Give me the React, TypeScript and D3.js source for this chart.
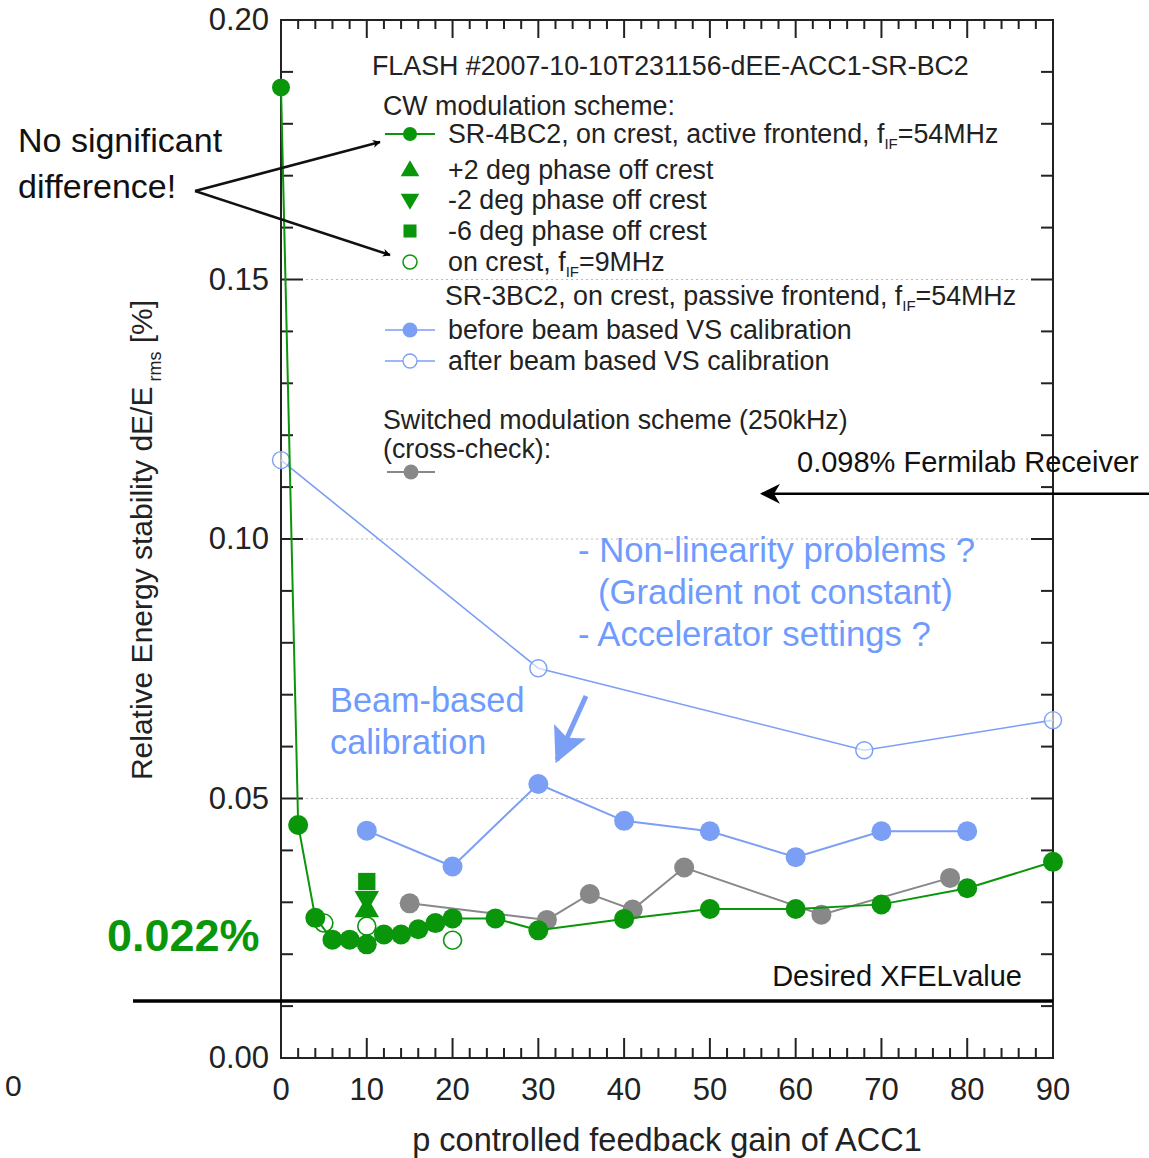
import React from "react";
import * as d3 from "d3";

// ---------- data ----------
const greenX = [0, 2, 4, 6, 8, 10, 12, 14, 16, 18, 20, 25, 30, 40, 50, 60, 70, 80, 90];
const greenY = [0.187, 0.0449, 0.027, 0.0228, 0.0228, 0.0219, 0.0238, 0.0238, 0.0248, 0.026, 0.0269, 0.0269, 0.0246, 0.0268, 0.0287, 0.0287, 0.0296, 0.0327, 0.0378];

const openGreenX = [5, 10, 20];
const openGreenY = [0.026, 0.0254, 0.0227];

const upTriX = [10];
const upTriY = [0.0285];
const downTriX = [10];
const downTriY = [0.0308];
const squareX = [10];
const squareY = [0.034];

const blueBeforeX = [10, 20, 30, 40, 50, 60, 70, 80];
const blueBeforeY = [0.0438, 0.0369, 0.0528, 0.0457, 0.0437, 0.0387, 0.0437, 0.0437];

const blueAfterX = [0, 30, 68, 90];
const blueAfterY = [0.1152, 0.0751, 0.0593, 0.0651];

const grayX = [15, 31, 36, 41, 47, 63, 78];
const grayY = [0.0298, 0.0266, 0.0316, 0.0286, 0.0367, 0.0276, 0.0347];

const xTickLabels = [0, 10, 20, 30, 40, 50, 60, 70, 80, 90];
const yTickLabels = ["0.00", "0.05", "0.10", "0.15", "0.20"];
const gridValues = [0.05, 0.1, 0.15];

const xfelValue = 0.011;
const fermilabArrowValue = 0.1087;

// ---------- styles ----------
const GREEN = "#0a960a";
const BLUE = "#7b9ff5";
const BLUE_TEXT = "#6f9bff";
const GRAY = "#888888";
const FONT = "'Liberation Sans', Arial, Helvetica, sans-serif";

export default function App() {
  const W = 1149, H = 1158;
  const x = d3.scaleLinear().domain([0, 90]).range([281, 1053]);
  const y = d3.scaleLinear().domain([0, 0.2]).range([1058, 20]);
  const [x0, x1] = x.range();
  const [y0, y1] = y.range();

  const line = d3.line<[number, number]>().x(d => x(d[0])).y(d => y(d[1]));
  const zip = (a: number[], b: number[]) => a.map((v, i) => [v, b[i]] as [number, number]);

  const xMinor = d3.range(0, 90.001, 2);
  const yMinor = d3.range(0, 0.2001, 0.01);

  const triUp = d3.symbol().type(d3.symbolTriangle).size(260)()!;
  const sq = d3.symbol().type(d3.symbolSquare).size(300)()!;
  const triUpL = d3.symbol().type(d3.symbolTriangle).size(150)()!;
  const sqL = d3.symbol().type(d3.symbolSquare).size(170)()!;

  const legendFs = 26.8;
  const lx = 448; // legend text x
  const sx = 410; // legend symbol x

  return (
    <svg width={W} height={H} style={{ position: "absolute", left: 0, top: 0, background: "#fff" }} fontFamily={FONT}>
      <defs>
        <marker id="arrBlack" viewBox="0 0 10 10" refX="9" refY="5" markerWidth="8" markerHeight="8" orient="auto-start-reverse" markerUnits="userSpaceOnUse">
          <path d="M0,0 L10,5 L0,10 L3,5 Z" fill="#000" />
        </marker>
        <marker id="arrBig" viewBox="0 0 10 10" refX="9" refY="5" markerWidth="26" markerHeight="20" orient="auto" markerUnits="userSpaceOnUse">
          <path d="M0,0 L10,5 L0,10 L3,5 Z" fill="#000" />
        </marker>
        <marker id="arrBlue" viewBox="0 0 10 10" refX="9" refY="5" markerWidth="8" markerHeight="7" orient="auto">
          <path d="M0,0 L10,5 L0,10 L2,5 Z" fill={BLUE} />
        </marker>
      </defs>

      {/* gridlines */}
      {gridValues.map(v => (
        <line key={v} x1={x0} x2={x1} y1={y(v)} y2={y(v)} stroke="#bbb" strokeWidth={1} strokeDasharray="2,3" />
      ))}

      {/* frame */}
      <rect x={x0} y={y1} width={x1 - x0} height={y0 - y1} fill="none" stroke="#222" strokeWidth={2} />

      {/* x ticks (bottom & top) */}
      {xMinor.map(v => {
        const major = Math.abs(v % 10) < 1e-6;
        const len = major ? 20 : 10;
        return (
          <g key={"xt" + v} stroke="#222" strokeWidth={2}>
            <line x1={x(v)} x2={x(v)} y1={y0} y2={y0 - len} />
            <line x1={x(v)} x2={x(v)} y1={y1} y2={y1 + (major ? 18 : 9)} />
          </g>
        );
      })}
      {/* y ticks (left & right) */}
      {yMinor.map((v, i) => {
        const major = i % 5 === 0;
        const len = major ? 22 : 12;
        return (
          <g key={"yt" + i} stroke="#222" strokeWidth={2}>
            <line x1={x0} x2={x0 + len} y1={y(v)} y2={y(v)} />
            <line x1={x1} x2={x1 - len} y1={y(v)} y2={y(v)} />
          </g>
        );
      })}

      {/* tick labels */}
      {xTickLabels.map(v => (
        <text key={"xl" + v} x={x(v)} y={y0 + 42} fontSize={31} textAnchor="middle" fill="#222">{v}</text>
      ))}
      {yTickLabels.map(s => (
        <text key={"yl" + s} x={x0 - 12} y={y(+s) + 10} fontSize={31} textAnchor="end" fill="#222">{s}</text>
      ))}
      <text x={5} y={1096} fontSize={30} fill="#222">0</text>

      {/* axis titles */}
      <text x={(x0 + x1) / 2} y={1151} fontSize={32.5} textAnchor="middle" fill="#222">p controlled feedback gain of ACC1</text>
      <text transform={`translate(152, ${y(0.1) + 1}) rotate(-90)`} fontSize={30} textAnchor="middle" fill="#222">
        Relative Energy stability dE/E<tspan fontSize={18} dy={9}> rms</tspan><tspan dy={-9}> [%]</tspan>
      </text>

      {/* desired XFEL line */}
      <line x1={133} x2={x1} y1={y(xfelValue)} y2={y(xfelValue)} stroke="#000" strokeWidth={3.5} />
      <text x={1022} y={y(xfelValue) - 15} fontSize={29} textAnchor="end" fill="#111">Desired XFELvalue</text>

      {/* Fermilab arrow */}
      <line x1={W} x2={762} y1={y(fermilabArrowValue)} y2={y(fermilabArrowValue)} stroke="#000" strokeWidth={2.5} markerEnd="url(#arrBig)" />
      <text x={797} y={y(fermilabArrowValue) - 22} fontSize={29} fill="#111">0.098% Fermilab Receiver</text>

      {/* series: blue after */}
      <path d={line(zip(blueAfterX, blueAfterY))!} fill="none" stroke={BLUE} strokeWidth={1.6} />
      {blueAfterX.map((v, i) => (
        <circle key={"ba" + i} cx={x(v)} cy={y(blueAfterY[i])} r={8.5} fill="#fff" fillOpacity={0.6} stroke={BLUE} strokeWidth={1.4} />
      ))}
      {/* blue before */}
      <path d={line(zip(blueBeforeX, blueBeforeY))!} fill="none" stroke={BLUE} strokeWidth={2} />
      {blueBeforeX.map((v, i) => (
        <circle key={"bb" + i} cx={x(v)} cy={y(blueBeforeY[i])} r={10} fill={BLUE} />
      ))}
      {/* gray */}
      <path d={line(zip(grayX, grayY))!} fill="none" stroke={GRAY} strokeWidth={2} />
      {grayX.map((v, i) => (
        <circle key={"g" + i} cx={x(v)} cy={y(grayY[i])} r={10} fill={GRAY} />
      ))}
      {/* open green */}
      {openGreenX.map((v, i) => (
        <circle key={"og" + i} cx={x(v)} cy={y(openGreenY[i])} r={9} fill="#fff" stroke={GREEN} strokeWidth={1.6} />
      ))}
      {/* square, triangles */}
      {squareX.map((v, i) => (
        <path key={"sq" + i} d={sq} transform={`translate(${x(v)},${y(squareY[i])})`} fill={GREEN} />
      ))}
      {downTriX.map((v, i) => (
        <path key={"dt" + i} d={triUp} transform={`translate(${x(v)},${y(downTriY[i])}) rotate(180)`} fill={GREEN} />
      ))}
      {upTriX.map((v, i) => (
        <path key={"ut" + i} d={triUp} transform={`translate(${x(v)},${y(upTriY[i])})`} fill={GREEN} />
      ))}
      {/* green main */}
      <path d={line(zip(greenX, greenY))!} fill="none" stroke={GREEN} strokeWidth={2} />
      {greenX.map((v, i) => (
        <circle key={"gr" + i} cx={x(v)} cy={y(greenY[i])} r={i === 0 ? 9 : 10} fill={GREEN} />
      ))}

      {/* legend */}
      <text x={372} y={75} fontSize={legendFs} fill="#222">FLASH #2007-10-10T231156-dEE-ACC1-SR-BC2</text>
      <text x={383} y={115} fontSize={legendFs} fill="#222">CW modulation scheme:</text>

      <line x1={385} x2={435} y1={134} y2={134} stroke={GREEN} strokeWidth={2} />
      <circle cx={sx} cy={134} r={7} fill={GREEN} />
      <text x={lx} y={143} fontSize={legendFs} fill="#222">SR-4BC2, on crest, active frontend, f<tspan fontSize={15} dy={6}>IF</tspan><tspan dy={-6}>=54MHz</tspan></text>

      <path d={triUpL} transform={`translate(${sx},171)`} fill={GREEN} />
      <text x={lx} y={179} fontSize={legendFs} fill="#222">+2 deg phase off crest</text>

      <path d={triUpL} transform={`translate(${sx},199) rotate(180)`} fill={GREEN} />
      <text x={lx} y={209} fontSize={legendFs} fill="#222">-2 deg phase off crest</text>

      <path d={sqL} transform={`translate(${sx},231)`} fill={GREEN} />
      <text x={lx} y={240} fontSize={legendFs} fill="#222">-6 deg phase off crest</text>

      <circle cx={sx} cy={262} r={7} fill="#fff" stroke={GREEN} strokeWidth={1.5} />
      <text x={lx} y={271} fontSize={legendFs} fill="#222">on crest, f<tspan fontSize={15} dy={6}>IF</tspan><tspan dy={-6}>=9MHz</tspan></text>

      <text x={445} y={305} fontSize={legendFs} fill="#222">SR-3BC2, on crest, passive frontend, f<tspan fontSize={15} dy={6}>IF</tspan><tspan dy={-6}>=54MHz</tspan></text>

      <line x1={385} x2={435} y1={330} y2={330} stroke={BLUE} strokeWidth={1.6} />
      <circle cx={sx} cy={330} r={7.5} fill={BLUE} />
      <text x={lx} y={339} fontSize={legendFs} fill="#222">before beam based VS calibration</text>

      <line x1={385} x2={435} y1={361} y2={361} stroke={BLUE} strokeWidth={1.4} />
      <circle cx={sx} cy={361} r={7} fill="#fff" stroke={BLUE} strokeWidth={1.3} />
      <text x={lx} y={370} fontSize={legendFs} fill="#222">after beam based VS calibration</text>

      <text x={383} y={429} fontSize={legendFs} fill="#222">Switched modulation scheme (250kHz)</text>
      <text x={383} y={458} fontSize={legendFs} fill="#222">(cross-check):</text>
      <line x1={387} x2={435} y1={472} y2={472} stroke={GRAY} strokeWidth={2} />
      <circle cx={411} cy={472} r={7.5} fill={GRAY} />

      {/* annotations */}
      <text x={18} y={152} fontSize={34} fill="#111">No significant</text>
      <text x={18} y={198} fontSize={34} fill="#111">difference!</text>
      <line x1={195} y1={191} x2={380} y2={142} stroke="#111" strokeWidth={2.5} markerEnd="url(#arrBlack)" />
      <line x1={195} y1={191} x2={390} y2={255} stroke="#111" strokeWidth={2.5} markerEnd="url(#arrBlack)" />

      <text x={107} y={951} fontSize={45} fontWeight="bold" fill={GREEN}>0.022%</text>

      <text x={578} y={562} fontSize={34.7} fill={BLUE_TEXT}>- Non-linearity problems ?</text>
      <text x={598} y={604} fontSize={34.7} fill={BLUE_TEXT}>(Gradient not constant)</text>
      <text x={578} y={646} fontSize={34.7} fill={BLUE_TEXT}>- Accelerator settings ?</text>

      <text x={330} y={712} fontSize={34.3} fill={BLUE_TEXT}>Beam-based</text>
      <text x={330} y={754} fontSize={34.3} fill={BLUE_TEXT}>calibration</text>
      <line x1={586} y1={696} x2={557} y2={760} stroke={BLUE} strokeWidth={5} markerEnd="url(#arrBlue)" />
    </svg>
  );
}
